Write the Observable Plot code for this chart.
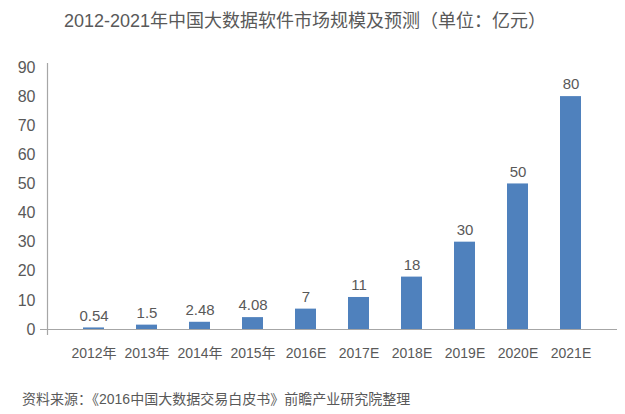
<!DOCTYPE html>
<html>
<head>
<meta charset="utf-8">
<script src="https://cdn.jsdelivr.net/npm/d3@7"></script>
<script src="https://cdn.jsdelivr.net/npm/@observablehq/plot@0.6"></script>
<style>
  body { margin: 0; background: #fff; width: 625px; font-family: "Liberation Sans", "Noto Sans CJK SC", sans-serif; color: #595959; }
  #title { height: 42px; line-height: 42px; font-size: 18px; text-align: center; padding-right: 15px; white-space: nowrap; }
  #caption { height: 30px; line-height: 30px; font-size: 14px; padding-left: 22px; white-space: nowrap; }
  svg { display: block; }
</style>
</head>
<body>
<div id="title">2012-2021年中国大数据软件市场规模及预测（单位：亿元）</div>
<div id="chart"></div>
<div id="caption">资料来源：《2016中国大数据交易白皮书》前瞻产业研究院整理</div>
<script>
const categories = ["2012年", "2013年", "2014年", "2015年", "2016E", "2017E", "2018E", "2019E", "2020E", "2021E"];
const values = [0.54, 1.5, 2.48, 4.08, 7, 11, 18, 30, 50, 80];
const valueLabels = ["0.54", "1.5", "2.48", "4.08", "7", "11", "18", "30", "50", "80"];
const yTicks = [0, 10, 20, 30, 40, 50, 60, 70, 80, 90];

const data = categories.map((c, i) => ({category: c, value: values[i], label: valueLabels[i]}));

const chart = Plot.plot({
  width: 625,
  height: 342,
  marginTop: 25,
  marginBottom: 55,
  marginLeft: 47,
  marginRight: 8,
  style: {fontFamily: '"Liberation Sans", "Noto Sans CJK SC", sans-serif', color: "#595959", background: "#fff"},
  x: {domain: categories, padding: 0.6, label: null},
  y: {domain: [0, 90], label: null},
  marks: [
    Plot.barY(data, {x: "category", y: "value", fill: "#4F81BD"}),
    Plot.text(data, {x: "category", y: "value", text: "label", dy: -12, fontSize: 15, fill: "#595959"}),
    Plot.ruleY([0], {stroke: "#A6A6A6", strokeWidth: 1.2}),
    Plot.frame({anchor: "left", stroke: "#A6A6A6", strokeWidth: 1.2, insetTop: -4, insetBottom: -5}),
    Plot.axisY({ticks: [0], tickSize: 7, text: null, stroke: "#A6A6A6"}),
    Plot.axisY({ticks: yTicks, tickSize: 0, tickPadding: 12, fontSize: 16, label: null, fill: "#595959"}),
    Plot.axisX({tickSize: 0, tickPadding: 19, fontSize: 14, label: null, fill: "#595959"})
  ]
});
document.getElementById("chart").appendChild(chart);
</script>
</body>
</html>
